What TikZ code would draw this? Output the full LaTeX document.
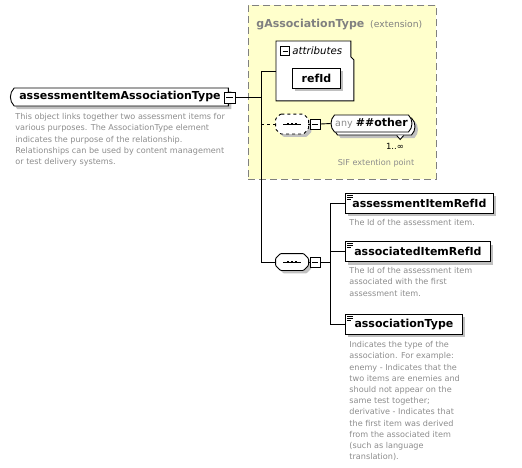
\documentclass[tikz,border=0pt]{standalone}
\usepackage{fontspec}
\setmainfont{DejaVu Sans}
\usetikzlibrary{shapes.misc,shadows,calc}

\definecolor{notegray}{RGB}{140,140,140}
\definecolor{extyellow}{RGB}{255,255,204}
\definecolor{shadowgray}{RGB}{192,192,192}
\definecolor{bordergray}{RGB}{128,128,128}

\tikzset{
  graysh/.style={drop shadow={shadow xshift=3pt,shadow yshift=-3pt,fill=shadowgray,opacity=1}},
  namefont/.style={font=\bfseries\fontsize{11}{13}\selectfont},
  elem/.style={draw,fill=white,graysh,namefont,minimum height=20pt,inner xsep=5pt,anchor=west},
  note/.style={font=\fontsize{8.1}{11.2}\selectfont,text=notegray,align=left,anchor=north west,inner sep=0pt},
  minusbox/.style={draw,fill=white,minimum size=10pt,inner sep=0pt,
    path picture={\draw ([xshift=2pt]path picture bounding box.west) -- ([xshift=-2pt]path picture bounding box.east);}},
  seqbox/.style={minimum width=32pt,inner sep=0pt},
}

% octagon drawn round a sequence node
\newcommand{\octo}[2][]{
  \draw[fill=white,graysh,rounded corners=0.8pt,#1] ([xshift=5pt]#2.north west) -- ([xshift=-5pt]#2.north east)
    -- ([yshift=-5pt]#2.north east) -- (#2.east) -- ([yshift=5pt]#2.south east) -- ([xshift=-5pt]#2.south east)
    -- ([xshift=5pt]#2.south west) -- ([yshift=5pt]#2.south west) -- (#2.west) -- ([yshift=-5pt]#2.north west) -- cycle;
}
% three lines in the corner of an element box
\newcommand{\elicon}[1]{
  \draw[line width=0.8pt] ([shift={(2pt,-2.5pt)}]#1.north west) -- +(6pt,0)
    ([shift={(2pt,-4.5pt)}]#1.north west) -- +(6pt,0)
    ([shift={(2pt,-6.5pt)}]#1.north west) -- +(4pt,0);
}
% line with three dots inside a sequence box
\newcommand{\seqdots}[1]{
  \draw ([xshift=-9pt]#1.center) -- ([xshift=9pt]#1.center);
  \foreach \d in {-4,0,4}
    \fill ([xshift=\d pt]#1.center) +(-1.3pt,-1.3pt) rectangle +(1.3pt,1.3pt);
}

\begin{document}
\begin{tikzpicture}[x=1pt,y=-1pt,line width=0.9pt]
  \useasboundingbox (0,0) rectangle (522,467);

  % extension group
  \node[draw=bordergray,dash pattern=on 7pt off 4pt,fill=extyellow,minimum width=188pt,
    minimum height=174pt,anchor=north west,inner sep=0pt] (ext) at (248,5) {};
  \node[namefont,text=bordergray,anchor=base west,inner sep=0pt] (exttitle) at (256,27) {gAssociationType};
  \node[font=\fontsize{9.2}{11}\selectfont,text=bordergray,anchor=base west,inner sep=0pt]
    (extkind) at ([xshift=5pt]exttitle.base east) {(extension)};

  % root element
  \node[rounded rectangle,rounded rectangle right arc=none,rounded rectangle arc length=90,
    draw,fill=white,graysh,namefont,minimum width=218pt,minimum height=18pt,inner sep=0pt]
    (root) at (120,97) {assessmentItemAssociationType};
  \node[minusbox,minimum size=11pt] (rootminus) at (229.5,97.5) {};
  \node[note] (rootnote) at (15,113) {This object links together two assessment items for\\
    various purposes. The AssociationType element\\
    indicates the purpose of the relationship.\\
    Relationships can be used by content management\\
    or test delivery systems.};

  % attributes
  \node[minimum width=77pt,minimum height=59pt,anchor=north west,inner sep=0pt] (attr) at (276,41) {};
  \draw[fill=white] (attr.north west) -- ([xshift=-3pt]attr.north east)
    -- ([shift={(-3pt,-16pt)}]attr.north east) -- ([yshift=-19pt]attr.north east)
    -- (attr.south east) -- (attr.south west) -- cycle;
  \node[minusbox,minimum size=9pt] (attrminus) at (285,51) {};
  \node[font=\itshape\fontsize{10.2}{12}\selectfont,anchor=west,inner sep=0pt] (attrlabel) at (292,51) {attributes};
  \node[elem,minimum width=48pt] (refid) at (292,78) {refId};

  % wildcard
  \node[seqbox,minimum height=19pt] (seqany) at (292,124) {};
  \octo[dashed]{seqany}
  \seqdots{seqany}
  \node[minusbox] (seqanyminus) at (315,124) {};
  \node[rounded rectangle,rounded rectangle arc length=90,draw,fill=white,
    drop shadow={shadow xshift=6pt,shadow yshift=-6pt,fill=shadowgray,opacity=1},
    copy shadow={shadow xshift=3pt,shadow yshift=-3pt},
    minimum width=81pt,minimum height=17pt,inner sep=0pt] (anyel) at (371.5,123.5)
    {{\fontsize{9.5}{11}\selectfont\color{notegray}any}\ {\bfseries\fontsize{11}{13}\selectfont\#\#other}};
  \draw[fill=white] ($(anyel.south east)+(-12,3)$) -- ($(anyel.south east)+(-8.5,7)$)
    -- ($(anyel.south east)+(-5,3)$);
  \node[font=\fontsize{8.5}{10}\selectfont,inner sep=0pt] (anymult) at (395,146) {1..∞};
  \node[font=\fontsize{8.1}{10}\selectfont,text=notegray,inner sep=0pt] (anynote) at (376,163) {SIF extention point};

  % sequence of child elements
  \node[seqbox,minimum height=16pt] (seq) at (292,262) {};
  \octo{seq}
  \seqdots{seq}
  \node[minusbox] (seqminus) at (315,262) {};

  \node[elem,minimum width=148pt] (itemref) at (345,203) {assessmentItemRefId};
  \elicon{itemref}
  \node[note] (itemrefnote) at (349,219) {The Id of the assessment item.};

  \node[elem,minimum width=145pt] (associd) at (345,251.5) {associatedItemRefId};
  \elicon{associd}
  \node[note] (associdnote) at (349,267) {The Id of the assessment item\\
    associated with the first\\
    assessment item.};

  \node[elem,minimum width=117pt] (assoctype) at (345,324) {associationType};
  \elicon{assoctype}
  \node[note] (assoctypenote) at (349,341) {Indicates the type of the\\
    association. For example:\\
    enemy - Indicates that the\\
    two items are enemies and\\
    should not appear on the\\
    same test together;\\
    derivative - Indicates that\\
    the first item was derived\\
    from the associated item\\
    (such as language\\
    translation).};

  % connectors
  \coordinate (trunkx) at (261,0);
  \coordinate (branchx) at (330,0);
  \draw (rootminus.east) -- (rootminus.east -| trunkx);
  \draw (attr.west) -- (attr.west -| trunkx) -- (seq.west -| trunkx) -- (seq.west);
  \draw[dashed] (seqany.west -| trunkx) -- (seqany.west);
  \draw (seqany.east) -- (seqanyminus.west);
  \draw (seqanyminus.east) -- (anyel.west);
  \draw (seq.east) -- (seqminus.west);
  \draw (seqminus.east) -- (seqminus.east -| branchx);
  \draw (itemref.west) -- (itemref.west -| branchx) -- (assoctype.west -| branchx) -- (assoctype.west);
  \draw (associd.west) -- (associd.west -| branchx);
\end{tikzpicture}
\end{document}
